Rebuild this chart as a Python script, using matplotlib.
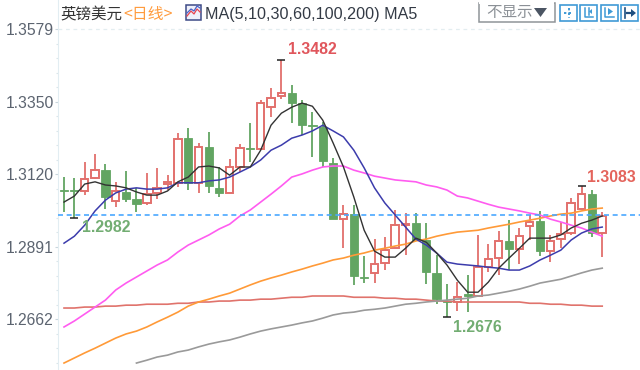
#!/usr/bin/env python3
"""GBP/USD daily candles with moving averages."""

import matplotlib
matplotlib.use("Agg")
import matplotlib.pyplot as plt
from matplotlib.patches import Rectangle, Polygon

# OHLC
opens = [1.3070, 1.3070, 1.3067, 1.3108, 1.3133, 1.3035, 1.3064, 1.3042, 1.3029, 1.3061,
         1.3089, 1.3093, 1.3234, 1.3093, 1.3206, 1.3077, 1.3061, 1.3143, 1.3203, 1.3199,
         1.3332, 1.3367, 1.3376, 1.3345, 1.3275, 1.3269, 1.3155, 1.2978, 1.2994, 1.2795,
         1.2808, 1.2839, 1.2886, 1.2959, 1.2965, 1.2912, 1.2808, 1.2719, 1.2716, 1.2741,
         1.2735, 1.2826, 1.2855, 1.2909, 1.2883, 1.2956, 1.2972, 1.2877, 1.2915, 1.2934,
         1.3010, 1.3057, 1.2934]
highs = [1.3111, 1.3108, 1.3159, 1.3183, 1.3152, 1.3096, 1.3130, 1.3077, 1.3124, 1.3140,
         1.3117, 1.3251, 1.3266, 1.3219, 1.3254, 1.3143, 1.3168, 1.3215, 1.3282, 1.3354,
         1.3392, 1.3482, 1.3402, 1.3354, 1.3317, 1.3285, 1.3171, 1.3022, 1.3022, 1.2861,
         1.2915, 1.2921, 1.3007, 1.2997, 1.2997, 1.2965, 1.2864, 1.2773, 1.2779, 1.2801,
         1.2928, 1.2899, 1.2940, 1.2975, 1.2950, 1.2991, 1.3004, 1.2928, 1.2969, 1.3045,
         1.3083, 1.3070, 1.3001]
lows = [1.3001, 1.2982, 1.3054, 1.3105, 1.3010, 1.3016, 1.3032, 1.3001, 1.3022, 1.3042,
        1.3070, 1.3080, 1.3070, 1.3061, 1.3061, 1.3048, 1.3061, 1.3127, 1.3159, 1.3199,
        1.3301, 1.3357, 1.3282, 1.3244, 1.3174, 1.3143, 1.2978, 1.2886, 1.2770, 1.2776,
        1.2776, 1.2817, 1.2886, 1.2864, 1.2912, 1.2773, 1.2710, 1.2670, 1.2687, 1.2684,
        1.2735, 1.2811, 1.2801, 1.2817, 1.2836, 1.2912, 1.2861, 1.2842, 1.2886, 1.2928,
        1.3010, 1.2921, 1.2858]
closes = [1.3067, 1.3067, 1.3105, 1.3133, 1.3048, 1.3067, 1.3042, 1.3025, 1.3057, 1.3077,
          1.3096, 1.3231, 1.3093, 1.3206, 1.3083, 1.3061, 1.3143, 1.3203, 1.3199, 1.3345,
          1.3360, 1.3376, 1.3345, 1.3275, 1.3272, 1.3162, 1.2978, 1.2994, 1.2798, 1.2792,
          1.2836, 1.2880, 1.2959, 1.2962, 1.2912, 1.2811, 1.2725, 1.2716, 1.2731, 1.2735,
          1.2826, 1.2852, 1.2909, 1.2883, 1.2924, 1.2969, 1.2877, 1.2909, 1.2931, 1.3029,
          1.3057, 1.2934, 1.2988]

ma5 = [1.3032, 1.3051, 1.3089, 1.3096, 1.3086, 1.3083, 1.3077, 1.3064, 1.3054, 1.3054,
       1.3067, 1.3096, 1.3111, 1.3143, 1.3146, 1.3140, 1.3117, 1.3143, 1.3143, 1.3196,
       1.3275, 1.3313, 1.3332, 1.3345, 1.3335, 1.3291, 1.3219, 1.3143, 1.3048, 1.2943,
       1.2877, 1.2858, 1.2858, 1.2886, 1.2918, 1.2905, 1.2871, 1.2833, 1.2785, 1.2747,
       1.2747, 1.2779, 1.2823, 1.2855, 1.2886, 1.2918, 1.2918, 1.2918, 1.2928, 1.2950,
       1.2965, 1.2975, 1.2988]
ma10 = [1.2902, 1.2924, 1.2959, 1.3004, 1.3038, 1.3061, 1.3073, 1.3077, 1.3073, 1.3073,
        1.3077, 1.3093, 1.3093, 1.3093, 1.3099, 1.3102, 1.3111, 1.3127, 1.3143, 1.3165,
        1.3196, 1.3212, 1.3234, 1.3244, 1.3257, 1.3275, 1.3257, 1.3238, 1.3196, 1.3140,
        1.3077, 1.3029, 1.2991, 1.2953, 1.2915, 1.2896, 1.2871, 1.2842, 1.2836, 1.2833,
        1.2830, 1.2826, 1.2823, 1.2817, 1.2817, 1.2830, 1.2849, 1.2864, 1.2880, 1.2912,
        1.2934, 1.2947, 1.2953]
ma30 = [1.2637, 1.2656, 1.2678, 1.2700, 1.2722, 1.2754, 1.2776, 1.2795, 1.2814, 1.2833,
        1.2849, 1.2874, 1.2896, 1.2912, 1.2928, 1.2947, 1.2962, 1.2988, 1.3007, 1.3032,
        1.3057, 1.3083, 1.3111, 1.3121, 1.3133, 1.3143, 1.3146, 1.3146, 1.3133, 1.3124,
        1.3114, 1.3108, 1.3102, 1.3099, 1.3096, 1.3086, 1.3080, 1.3070, 1.3051, 1.3045,
        1.3035, 1.3025, 1.3016, 1.3010, 1.3004, 1.2997, 1.2991, 1.2978, 1.2969, 1.2959,
        1.2950, 1.2937, 1.2924]
ma60 = [1.2523, 1.2539, 1.2555, 1.2570, 1.2586, 1.2602, 1.2615, 1.2624, 1.2637, 1.2653,
        1.2668, 1.2684, 1.2703, 1.2716, 1.2725, 1.2735, 1.2744, 1.2757, 1.2770, 1.2782,
        1.2792, 1.2801, 1.2811, 1.2820, 1.2830, 1.2839, 1.2849, 1.2855, 1.2864, 1.2871,
        1.2880, 1.2886, 1.2893, 1.2899, 1.2909, 1.2915, 1.2924, 1.2931, 1.2937, 1.2940,
        1.2943, 1.2950, 1.2956, 1.2962, 1.2969, 1.2975, 1.2981, 1.2988, 1.2994, 1.2997,
        1.3004, 1.3010, 1.3013]
# the 100-day line only comes into view from the 8th candle on
ma100 = [None] * 7 + [
        1.2523, 1.2532, 1.2542, 1.2548, 1.2558, 1.2564, 1.2574, 1.2583, 1.2590, 1.2596,
        1.2605, 1.2615, 1.2624, 1.2631, 1.2637, 1.2643, 1.2650, 1.2656, 1.2665, 1.2675,
        1.2681, 1.2684, 1.2690, 1.2693, 1.2697, 1.2703, 1.2709, 1.2712, 1.2716, 1.2719,
        1.2722, 1.2725, 1.2728, 1.2735, 1.2738, 1.2744, 1.2750, 1.2757, 1.2766, 1.2776,
        1.2782, 1.2788, 1.2798, 1.2808, 1.2817, 1.2823]
ma200 = [1.2697, 1.2697, 1.2700, 1.2700, 1.2703, 1.2703, 1.2706, 1.2706, 1.2709, 1.2709,
         1.2709, 1.2712, 1.2712, 1.2716, 1.2716, 1.2719, 1.2719, 1.2722, 1.2722, 1.2725,
         1.2725, 1.2728, 1.2731, 1.2731, 1.2735, 1.2735, 1.2735, 1.2735, 1.2731, 1.2731,
         1.2731, 1.2728, 1.2728, 1.2725, 1.2725, 1.2722, 1.2719, 1.2719, 1.2716, 1.2716,
         1.2716, 1.2716, 1.2716, 1.2716, 1.2716, 1.2712, 1.2712, 1.2709, 1.2709, 1.2706,
         1.2706, 1.2703, 1.2703]

y_ticks = [1.3579, 1.3350, 1.3120, 1.2891, 1.2662]
last_price = 1.2991
high_mark = 21      # candle of the 1.3482 label
low_mark = 37       # candle of the 1.2676 label
left_low_mark = 1   # candle of the 1.2982 label
right_high_mark = 50  # candle of the 1.3083 label

RED = "#e2706c"
GREEN = "#62a562"
CJK = ["Noto Sans CJK SC", "DejaVu Sans"]
NUM = "Liberation Sans"

fig = plt.figure(figsize=(6.4, 3.7), dpi=100)
ax = fig.add_axes([58 / 640, 0, 582 / 640, 1])
ax.set_xlim(-0.58, 55.65)
ax.set_ylim(1.2501, 1.3671)

# candles
for i in range(len(opens)):
    up = closes[i] >= opens[i]
    col = RED if up else GREEN
    ax.vlines(i, lows[i], highs[i], color=col, lw=1.3, zorder=2)
    bottom = min(opens[i], closes[i])
    height = max(abs(closes[i] - opens[i]), 0.0003)
    if up:
        ax.bar(i, height, 0.72, bottom, facecolor="white", edgecolor=col, lw=1.4, zorder=3)
    else:
        ax.bar(i, height, 0.8, bottom, facecolor=col, edgecolor=col, lw=0.6, zorder=3)

# moving averages
xs = list(range(len(opens)))
ax.plot(xs, ma200, color="#e0736c", lw=1.2, zorder=4)
ax.plot(xs, [float("nan") if v is None else v for v in ma100], color="#9a9a9a", lw=1.2, zorder=4)
ax.plot(xs, ma60, color="#ff9a38", lw=1.2, zorder=4)
ax.plot(xs, ma30, color="#ff5cf0", lw=1.2, zorder=4)
ax.plot(xs, ma10, color="#3c3cac", lw=1.1, zorder=5)
ax.plot(xs, ma5, color="#333333", lw=1.0, zorder=6)

# little crosses at the extremes
for i, v in [(high_mark, highs[high_mark]), (low_mark, lows[low_mark]),
             (left_low_mark, lows[left_low_mark]), (right_high_mark, highs[right_high_mark])]:
    ax.plot([i], [v], marker="_", ms=6, mew=1.1, color="#222222", zorder=7)

ax.axhline(last_price, color="#4aa8ff", lw=1.2, ls=(0, (3, 2.2)), zorder=8)
ax.axhline(y_ticks[0], color="#e3edf0", lw=0.9, ls=(0, (3, 3)), zorder=1)

# axis
for s in ["top", "right", "bottom"]:
    ax.spines[s].set_visible(False)
ax.spines["left"].set_color("#e2edf2")
ax.set_xticks([])
ax.set_yticks(y_ticks)
ax.set_yticklabels([f"{v:.4f}" for v in y_ticks], fontfamily=NUM, fontsize=11.3, color="#5c6470")
ax.tick_params(axis="y", length=2.5, width=0.8, color="#c9d6dc", pad=0.5)
minor = [y_ticks[-1] + k * (y_ticks[0] - y_ticks[-1]) / 20 for k in range(-3, 21) if k % 5]
ax.set_yticks(minor, minor=True)
ax.tick_params(axis="y", which="minor", length=1.5, width=0.8, color="#dbe6ea")

# overlay in pixel units for the header and the value labels
top = fig.add_axes([0, 0, 1, 1])
top.set_xlim(0, 640)
top.set_ylim(370, 0)
top.axis("off")

top.text(288, 50, "1.3482", color="#e0565c", fontfamily=NUM, fontweight="bold", fontsize=11.4, va="center")
top.text(587, 177, "1.3083", color="#e4645c", fontfamily=NUM, fontweight="bold", fontsize=11.4, va="center")
top.text(82, 228, "1.2982", color="#72ad72", fontfamily=NUM, fontweight="bold", fontsize=11.4, va="center")
top.text(453, 327, "1.2676", color="#72ad72", fontfamily=NUM, fontweight="bold", fontsize=11.4, va="center")

top.text(60, 15, "英镑美元", color="#333333", family=CJK, fontsize=11.2, va="center")
top.text(123, 15, "<日线>", color="#ff9c3f", family=CJK, fontsize=11.4, va="center")
top.text(205, 15, "MA(5,10,30,60,100,200) MA5", color="#333a45", fontfamily=NUM, fontsize=11.6, va="center")

# MA icon
top.add_patch(Rectangle((186, 5), 15, 15, fc="#eef0fa", ec="#3d4a86", lw=1.1))
top.plot([187, 191, 194, 197, 200], [16, 11, 14, 9, 12], color="#e8444e", lw=0.9)
top.plot([187, 191, 194, 197, 200], [13, 9, 11, 6, 8], color="#4a62c8", lw=0.9)

# dropdown
top.add_patch(Rectangle((478.5, 3), 76, 19, fc="white", ec="#8f9499", lw=1.1))
top.add_patch(Rectangle((479, 0), 75, 4, fc="white", ec="none"))
top.text(486, 13, "不显示", color="#8b9096", family=CJK, fontsize=11.2, va="center")
top.add_patch(Polygon([[534, 8], [547, 8], [540.5, 17]], fc="#4b5563", ec="none"))

# nav buttons
BLUE = "#3f9ad6"
for x0 in [560, 580, 601, 621]:
    top.add_patch(Rectangle((x0, 5), 17, 16, fc="white", ec=BLUE, lw=1.2))
top.plot([564, 573], [13, 13], color=BLUE, lw=1.4, ls=(0, (1.2, 1.2)))
top.plot([568.5, 568.5], [8, 18], color=BLUE, lw=1.4, ls=(0, (1.2, 1.2)))
top.plot([585, 585, 593], [8, 17, 17], color=BLUE, lw=1.1)
top.plot([589, 589], [8, 15], color=BLUE, lw=1.1)
top.add_patch(Polygon([[592, 9], [592, 14], [589, 11.5]], fc=BLUE, ec="none"))
top.plot([605, 605, 614], [8, 17, 17], color=BLUE, lw=1.1)
top.add_patch(Polygon([[608, 8], [608, 15], [613, 11.5]], fc=BLUE, ec="none"))
top.plot([625, 625], [8, 18], color="#1f4f80", lw=1.2)
top.plot([627, 632], [13, 13], color="#1f4f80", lw=1.6)
top.add_patch(Polygon([[631, 9], [631, 17], [636, 13]], fc="#1f4f80", ec="none"))

fig.savefig("out.png", dpi=100)
